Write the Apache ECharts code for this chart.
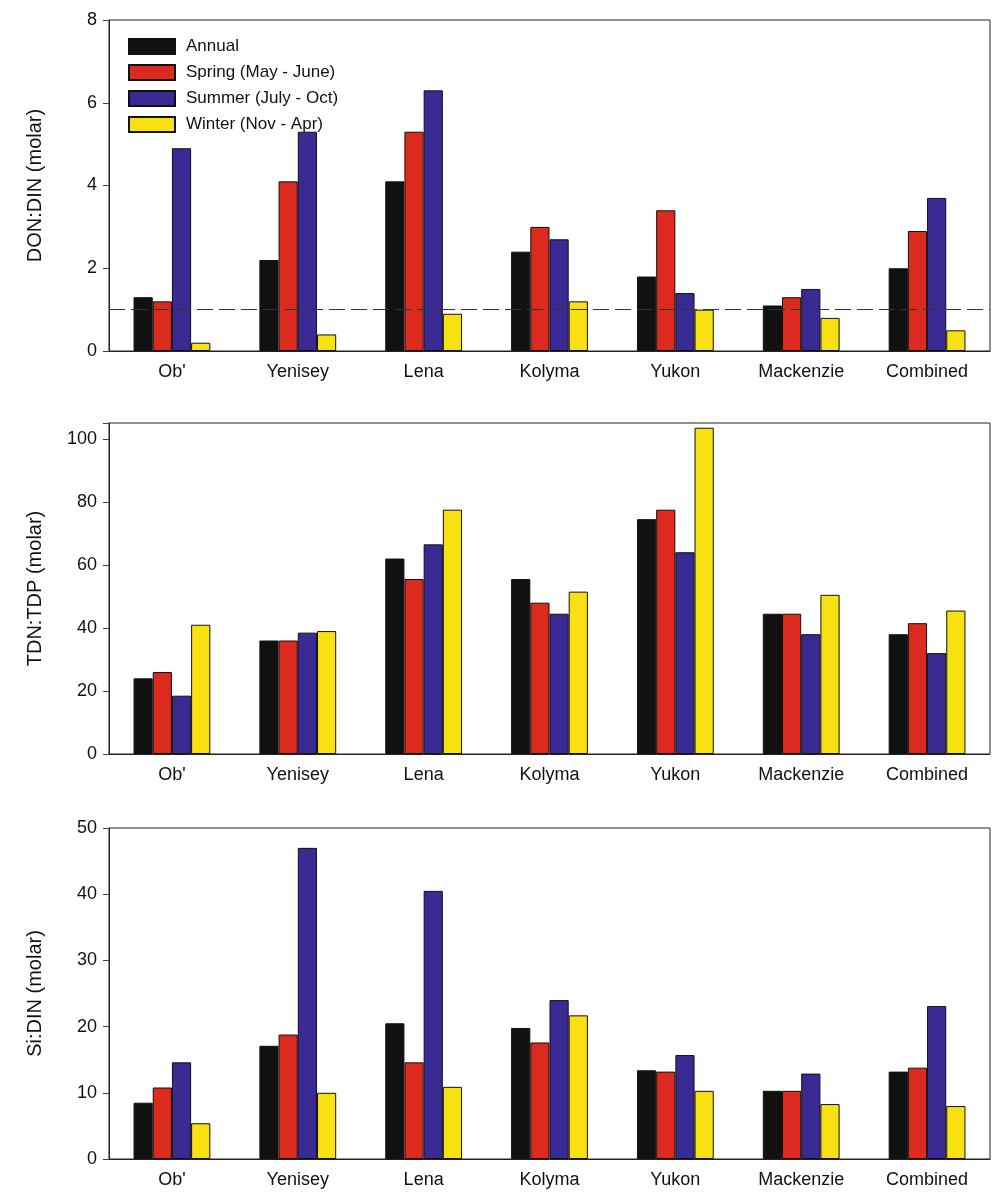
<!DOCTYPE html>
<html><head><meta charset="utf-8">
<script src="https://cdn.jsdelivr.net/npm/echarts@6/dist/echarts.min.js"></script>
<style>html,body{margin:0;padding:0;background:#fff}#c{width:993px;height:1194px}</style>
</head><body><div id="c"></div>
<script>
const categories = ["Ob'", "Yenisey", "Lena", "Kolyma", "Yukon", "Mackenzie", "Combined"];
const seriesNames = ["Annual", "Spring (May - June)", "Summer (July - Oct)", "Winter (Nov - Apr)"];
const colors = ["#111111", "#dc2a1e", "#3a2a94", "#f9e010"];
// DON:DIN
const donAnnual = [1.3, 2.2, 4.1, 2.4, 1.8, 1.1, 2.0];
const donSpring = [1.2, 4.1, 5.3, 3.0, 3.4, 1.3, 2.9];
const donSummer = [4.9, 5.3, 6.3, 2.7, 1.4, 1.5, 3.7];
const donWinter = [0.2, 0.4, 0.9, 1.2, 1.0, 0.8, 0.5];
// TDN:TDP
const tdnAnnual = [24, 36, 62, 55.5, 74.5, 44.5, 38];
const tdnSpring = [26, 36, 55.5, 48, 77.5, 44.5, 41.5];
const tdnSummer = [18.5, 38.5, 66.5, 44.5, 64, 38, 32];
const tdnWinter = [41, 39, 77.5, 51.5, 103.5, 50.5, 45.5];
// Si:DIN
const siAnnual = [8.5, 17.1, 20.5, 19.8, 13.4, 10.3, 13.2];
const siSpring = [10.8, 18.8, 14.6, 17.6, 13.2, 10.3, 13.8];
const siSummer = [14.6, 47, 40.5, 24, 15.7, 12.9, 23.1];
const siWinter = [5.4, 10, 10.9, 21.7, 10.3, 8.3, 8];

const panels = [
  {name: "DON:DIN (molar)", max: 8, interval: 2, data: [donAnnual, donSpring, donSummer, donWinter], top: 20},
  {name: "TDN:TDP (molar)", max: 105, interval: 20, data: [tdnAnnual, tdnSpring, tdnSummer, tdnWinter], top: 423},
  {name: "Si:DIN (molar)", max: 50, interval: 10, data: [siAnnual, siSpring, siSummer, siWinter], top: 828}
];
const font = "Arial, 'Liberation Sans', sans-serif";
const grid = [], xAxis = [], yAxis = [], series = [];
panels.forEach((p, i) => {
  grid.push({left: 109, width: 881, top: p.top, height: 331, show: true, borderColor: "#222", borderWidth: 1});
  xAxis.push({type: "category", gridIndex: i, data: categories,
    axisLine: {lineStyle: {color: "#222"}}, axisTick: {show: false},
    axisLabel: {color: "#111", fontSize: 18, fontFamily: font, margin: 12}});
  yAxis.push({type: "value", gridIndex: i, min: 0, max: p.max, interval: p.interval,
    name: p.name, nameLocation: "middle", nameGap: 64,
    nameTextStyle: {color: "#111", fontSize: 20, fontFamily: font},
    splitLine: {show: false},
    axisLine: {show: true, lineStyle: {color: "#222"}},
    axisTick: {show: true, inside: false, length: 6, lineStyle: {color: "#444"}},
    axisLabel: {color: "#111", fontSize: 18, fontFamily: font, margin: 12,
      formatter: v => (v > 100 ? "" : v)}});
  p.data.forEach((d, k) => {
    const s = {type: "bar", name: seriesNames[k], xAxisIndex: i, yAxisIndex: i, data: d,
      barGap: "0%", barCategoryGap: "39%",
      itemStyle: {color: colors[k], borderColor: "#111", borderWidth: 1}};
    if (i === 0 && k === 0) {
      s.markLine = {silent: true, symbol: "none", label: {show: false},
        lineStyle: {type: [16, 6], color: "#333", width: 1}, data: [{yAxis: 1}]};
    }
    series.push(s);
  });
});
const chart = echarts.init(document.getElementById("c"));
chart.setOption({
  animation: false,
  grid, xAxis, yAxis, series,
  legend: {data: seriesNames, orient: "vertical", left: 123, top: 33, itemGap: 9,
    itemWidth: 46, itemHeight: 15, icon: "rect",
    textStyle: {fontSize: 17, fontFamily: font, color: "#111", padding: [0, 0, 0, 6]}}
});
</script></body></html>
